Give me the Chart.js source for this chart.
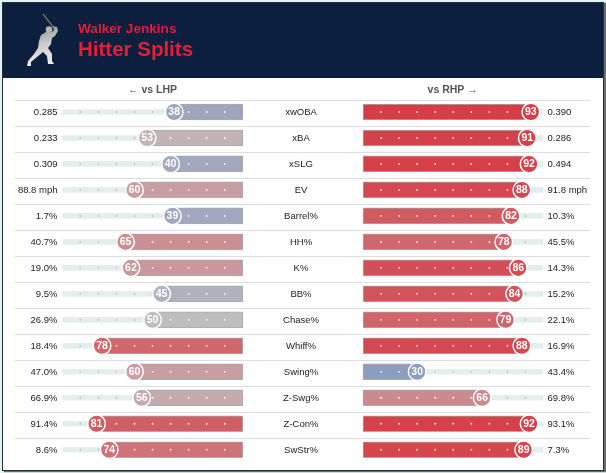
<!DOCTYPE html>
<html>
<head>
<meta charset="utf-8">
<script src="https://cdn.jsdelivr.net/npm/chart.js@4"></script>
<style>
  html, body { margin: 0; padding: 0; width: 606px; height: 473px; overflow: hidden; background: #e2f3f7; }
  #card { position: absolute; left: 2px; top: 2px; width: 600px; height: 467px; background: #fff;
          border: 1px solid #2e2e2e; box-shadow: 2px 1px 1px rgba(0,0,0,0.55); }
  #band { position: absolute; left: 0; top: 0; width: 600px; height: 75px; background: #0c1f3e; }
  #chart { position: absolute; left: 0; top: 0; }
</style>
</head>
<body>
<div id="card"><div id="band"></div></div>
<canvas id="chart" width="606" height="473"></canvas>
<script>
// stat rows, top to bottom
const metrics = ['xwOBA', 'xBA', 'xSLG', 'EV', 'Barrel%', 'HH%', 'K%', 'BB%', 'Chase%', 'Whiff%', 'Swing%', 'Z-Swg%', 'Z-Con%', 'SwStr%'];
// vs LHP
const lhpValues = ['0.285', '0.233', '0.309', '88.8 mph', '1.7%', '40.7%', '19.0%', '9.5%', '26.9%', '18.4%', '47.0%', '66.9%', '91.4%', '8.6%'];
const lhpPct = [38, 53, 40, 60, 39, 65, 62, 45, 50, 78, 60, 56, 81, 74];
// vs RHP
const rhpValues = ['0.390', '0.286', '0.494', '91.8 mph', '10.3%', '45.5%', '14.3%', '15.2%', '22.1%', '16.9%', '43.4%', '69.8%', '93.1%', '7.3%'];
const rhpPct = [93, 91, 92, 88, 82, 78, 86, 84, 79, 88, 30, 66, 92, 89];
// little dots along each track
const dotTicks = [10, 20, 30, 40, 50, 60, 70, 80, 90];

const FONT = '"Liberation Sans", Arial, sans-serif';
// half gap between the two sides, in percentile units
const G = 33.3;
const leftU = p => -G - p;
const rightU = p => G + p;

// blue -> grey -> red percentile colours
const colorStops = [
  [0, [58, 99, 173]], [30, [141, 157, 190]], [40, [162, 168, 190]], [50, [190, 190, 190]],
  [60, [200, 158, 162]], [70, [204, 127, 131]], [80, [209, 97, 103]], [90, [213, 67, 76]], [100, [216, 50, 60]]
];
function pctColor(p) {
  for (let i = 1; i < colorStops.length; i++) {
    const [p1, c1] = colorStops[i];
    const [p0, c0] = colorStops[i - 1];
    if (p <= p1) {
      const t = (p - p0) / (p1 - p0);
      const c = c0.map((v, k) => Math.round(v + (c1[k] - v) * t));
      return 'rgb(' + c.join(',') + ')';
    }
  }
  return 'rgb(216,50,60)';
}

const dotPoints = [];
const dotColors = [];
metrics.forEach((m, i) => {
  dotTicks.forEach(t => {
    dotPoints.push({ x: leftU(t), y: m });
    dotColors.push(t < lhpPct[i] ? 'rgba(255,255,255,0.9)' : '#b8c2c0');
    dotPoints.push({ x: rightU(t), y: m });
    dotColors.push(t < rhpPct[i] ? 'rgba(255,255,255,0.9)' : '#b8c2c0');
  });
});

function drawBatter(ctx) {
  ctx.save();
  ctx.strokeStyle = '#6a6a6a';
  ctx.lineWidth = 1.6;
  ctx.beginPath(); ctx.moveTo(43, 14); ctx.lineTo(54, 28); ctx.stroke();
  const g = ctx.createLinearGradient(35, 25, 45, 68);
  g.addColorStop(0, '#8e8e8e'); g.addColorStop(0.5, '#cfcfcf'); g.addColorStop(1, '#f2f2f2');
  ctx.fillStyle = g;
  ctx.beginPath();
  ctx.moveTo(53, 26); ctx.lineTo(57, 27); ctx.lineTo(58, 31); ctx.lineTo(55, 36);
  ctx.lineTo(52, 38); ctx.lineTo(51, 44); ctx.lineTo(48, 48); ctx.lineTo(52, 54);
  ctx.lineTo(52, 61); ctx.lineTo(54, 64); ctx.lineTo(48, 64); ctx.lineTo(47, 56);
  ctx.lineTo(43, 52); ctx.lineTo(37, 57); ctx.lineTo(31, 62); ctx.lineTo(31, 66);
  ctx.lineTo(27, 66); ctx.lineTo(28, 61); ctx.lineTo(34, 54); ctx.lineTo(38, 48);
  ctx.lineTo(39, 41); ctx.lineTo(41, 35); ctx.lineTo(46, 32); ctx.lineTo(52, 32);
  ctx.lineTo(54, 30);
  ctx.closePath(); ctx.fill();
  ctx.fillStyle = '#b4b4b4';
  ctx.beginPath(); ctx.arc(49, 29.5, 3.3, 0, Math.PI * 2); ctx.fill();
  ctx.restore();
}

const textPlugin = {
  id: 'splitText',
  beforeDraw(chart) {
    const ctx = chart.ctx;
    drawBatter(ctx);

    ctx.save();
    ctx.fillStyle = '#e51d3a';
    ctx.textAlign = 'left';
    ctx.textBaseline = 'alphabetic';
    ctx.font = 'bold 13.6px ' + FONT;
    ctx.fillText('Walker Jenkins', 78, 32.7);
    ctx.font = 'bold 20.5px ' + FONT;
    ctx.fillText('Hitter Splits', 78, 55.7);

    ctx.fillStyle = '#555';
    ctx.textAlign = 'center';
    ctx.textBaseline = 'middle';
    ctx.font = 'bold 10.5px ' + FONT;
    ctx.fillText('\u2190 vs LHP', 152.5, 90.5);
    ctx.fillText('vs RHP \u2192', 452.7, 90.5);

    const y = chart.scales.y;
    const rowH = Math.abs(y.getPixelForValue(1) - y.getPixelForValue(0));
    ctx.strokeStyle = '#dddddd';
    ctx.lineWidth = 1;
    metrics.forEach((m, i) => {
      const yy = Math.round(y.getPixelForValue(i) - rowH / 2 + 1) + 0.5;
      ctx.beginPath(); ctx.moveTo(15, yy); ctx.lineTo(590, yy); ctx.stroke();
    });

    ctx.fillStyle = '#222';
    ctx.font = '9.5px ' + FONT;
    metrics.forEach((m, i) => {
      const yy = y.getPixelForValue(i) + 0.5;
      ctx.textAlign = 'right';
      ctx.fillText(lhpValues[i], 57.5, yy);
      ctx.textAlign = 'center';
      ctx.fillText(m, 301, yy);
      ctx.textAlign = 'left';
      ctx.fillText(rhpValues[i], 547.5, yy);
    });
    ctx.restore();
  },
  afterDatasetsDraw(chart) {
    const ctx = chart.ctx;
    ctx.save();
    ctx.fillStyle = '#fff';
    ctx.font = 'bold 10.5px ' + FONT;
    ctx.textAlign = 'center';
    ctx.textBaseline = 'middle';
    [[0, lhpPct], [1, rhpPct]].forEach(([idx, pcts]) => {
      chart.getDatasetMeta(idx).data.forEach((pt, j) => {
        ctx.fillText(String(pcts[j]), pt.x, pt.y + 0.5);
      });
    });
    ctx.restore();
  }
};

new Chart(document.getElementById('chart'), {
  type: 'bar',
  data: {
    labels: metrics,
    datasets: [
      {
        type: 'scatter',
        data: lhpPct.map((p, i) => ({ x: leftU(p), y: metrics[i] })),
        pointRadius: 8.8,
        pointBackgroundColor: lhpPct.map(pctColor),
        pointBorderColor: '#fff',
        pointBorderWidth: 1.5,
        order: 0
      },
      {
        type: 'scatter',
        data: rhpPct.map((p, i) => ({ x: rightU(p), y: metrics[i] })),
        pointRadius: 8.8,
        pointBackgroundColor: rhpPct.map(pctColor),
        pointBorderColor: '#fff',
        pointBorderWidth: 1.5,
        order: 0
      },
      {
        type: 'scatter',
        data: dotPoints,
        pointRadius: 0.9,
        pointBorderWidth: 0,
        pointBackgroundColor: dotColors,
        order: 1
      },
      {
        data: lhpPct.map(p => [leftU(p), -G]),
        backgroundColor: lhpPct.map(pctColor),
        borderColor: 'rgba(150,150,150,0.8)',
        borderWidth: 1,
        borderSkipped: false,
        barThickness: 16,
        grouped: false,
        order: 2
      },
      {
        data: rhpPct.map(p => [G, rightU(p)]),
        backgroundColor: rhpPct.map(pctColor),
        borderColor: 'rgba(150,150,150,0.8)',
        borderWidth: 1,
        borderSkipped: false,
        barThickness: 16,
        grouped: false,
        order: 2
      },
      {
        data: metrics.map(() => [leftU(100), -G]),
        backgroundColor: '#e5eeec',
        barThickness: 5,
        borderRadius: 2,
        borderSkipped: false,
        grouped: false,
        order: 3
      },
      {
        data: metrics.map(() => [G, rightU(100)]),
        backgroundColor: '#e5eeec',
        barThickness: 5,
        borderRadius: 2,
        borderSkipped: false,
        grouped: false,
        order: 3
      }
    ]
  },
  options: {
    indexAxis: 'y',
    responsive: false,
    animation: false,
    layout: { padding: { left: 62.3, right: 62.5, top: 99, bottom: 5 } },
    scales: {
      x: { type: 'linear', min: leftU(100), max: rightU(100), display: false },
      y: { type: 'category', offset: true, display: false }
    },
    plugins: {
      legend: { display: false },
      tooltip: { enabled: false }
    }
  },
  plugins: [textPlugin]
});
</script>
</body>
</html>
